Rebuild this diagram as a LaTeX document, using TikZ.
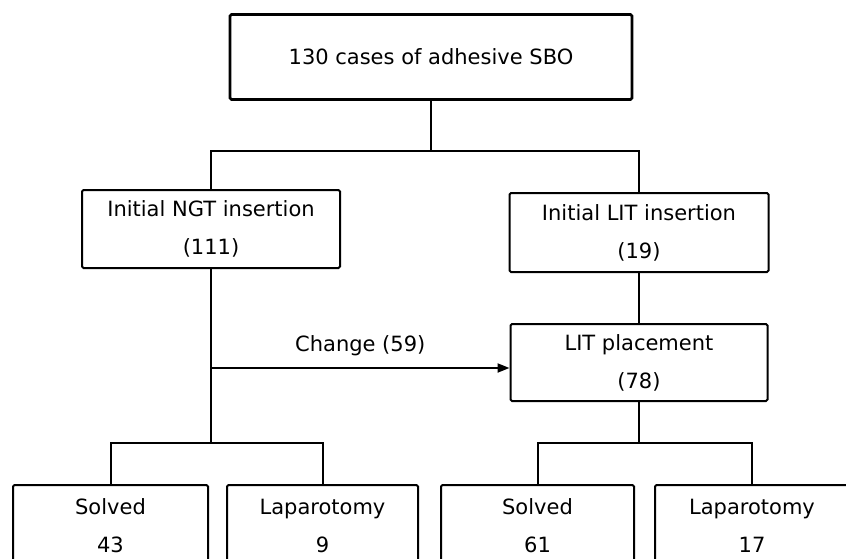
\documentclass[tikz,border=0pt]{standalone}
\usepackage{fontspec}
\setmainfont{DejaVu Sans}
\usepackage{tikz}
\usetikzlibrary{arrows.meta}

\begin{document}
\begin{tikzpicture}[
  x=1pt, y=-1pt,
  box/.style={draw=black, line width=2pt, rounded corners=1.5pt, align=center,
    font=\fontsize{21}{38}\selectfont, inner sep=0pt},
  link/.style={line width=2pt},
  >={Triangle[length=12pt, width=9pt]}
]
\useasboundingbox (0,0) rectangle (846,559);
\clip (0,0) rectangle (846,559);

\node[box, line width=2.6pt, minimum width=402, minimum height=85] (total) at (431,57)  {130 cases of adhesive SBO};
\node[box, minimum width=258, minimum height=78] (ngt)   at (211,229)   {Initial NGT insertion\\(111)};
\node[box, minimum width=259, minimum height=79] (lit)   at (639,232.5) {Initial LIT insertion\\(19)};
\node[box, minimum width=257, minimum height=77] (place) at (639,362.5) {LIT placement\\(78)};

\node[box, minimum width=195, minimum height=82] (ngtsolved) at (110.5,526) {Solved\\43};
\node[box, minimum width=191, minimum height=82] (ngtlap)    at (322.5,526) {Laparotomy\\9};
\node[box, minimum width=193, minimum height=82] (litsolved) at (537.5,526) {Solved\\61};
\node[box, minimum width=194, minimum height=82] (litlap)    at (752,526)   {Laparotomy\\17};

% split of all cases
\draw[link] (total.south) -- ++(0,50) coordinate (split);
\draw[link] (ngt.north) |- (split) -| (lit.north);

% NGT branch and the change over to LIT
\draw[link] (ngt.south) -- (ngt.south |- 0,443) coordinate (ngtsplit);
\draw[link] (ngtsolved.north) |- (ngtsplit) -| (ngtlap.north);
\draw[link, ->] (ngt.south |- 0,368) -- node[above=8pt, font=\fontsize{21}{24}\selectfont] {Change (59)} (place.west |- 0,368);

% LIT branch
\draw[link] (lit.south) -- (place.north);
\draw[link] (place.south) -- (place.south |- 0,443) coordinate (litsplit);
\draw[link] (litsolved.north) |- (litsplit) -| (litlap.north);
\end{tikzpicture}
\end{document}
